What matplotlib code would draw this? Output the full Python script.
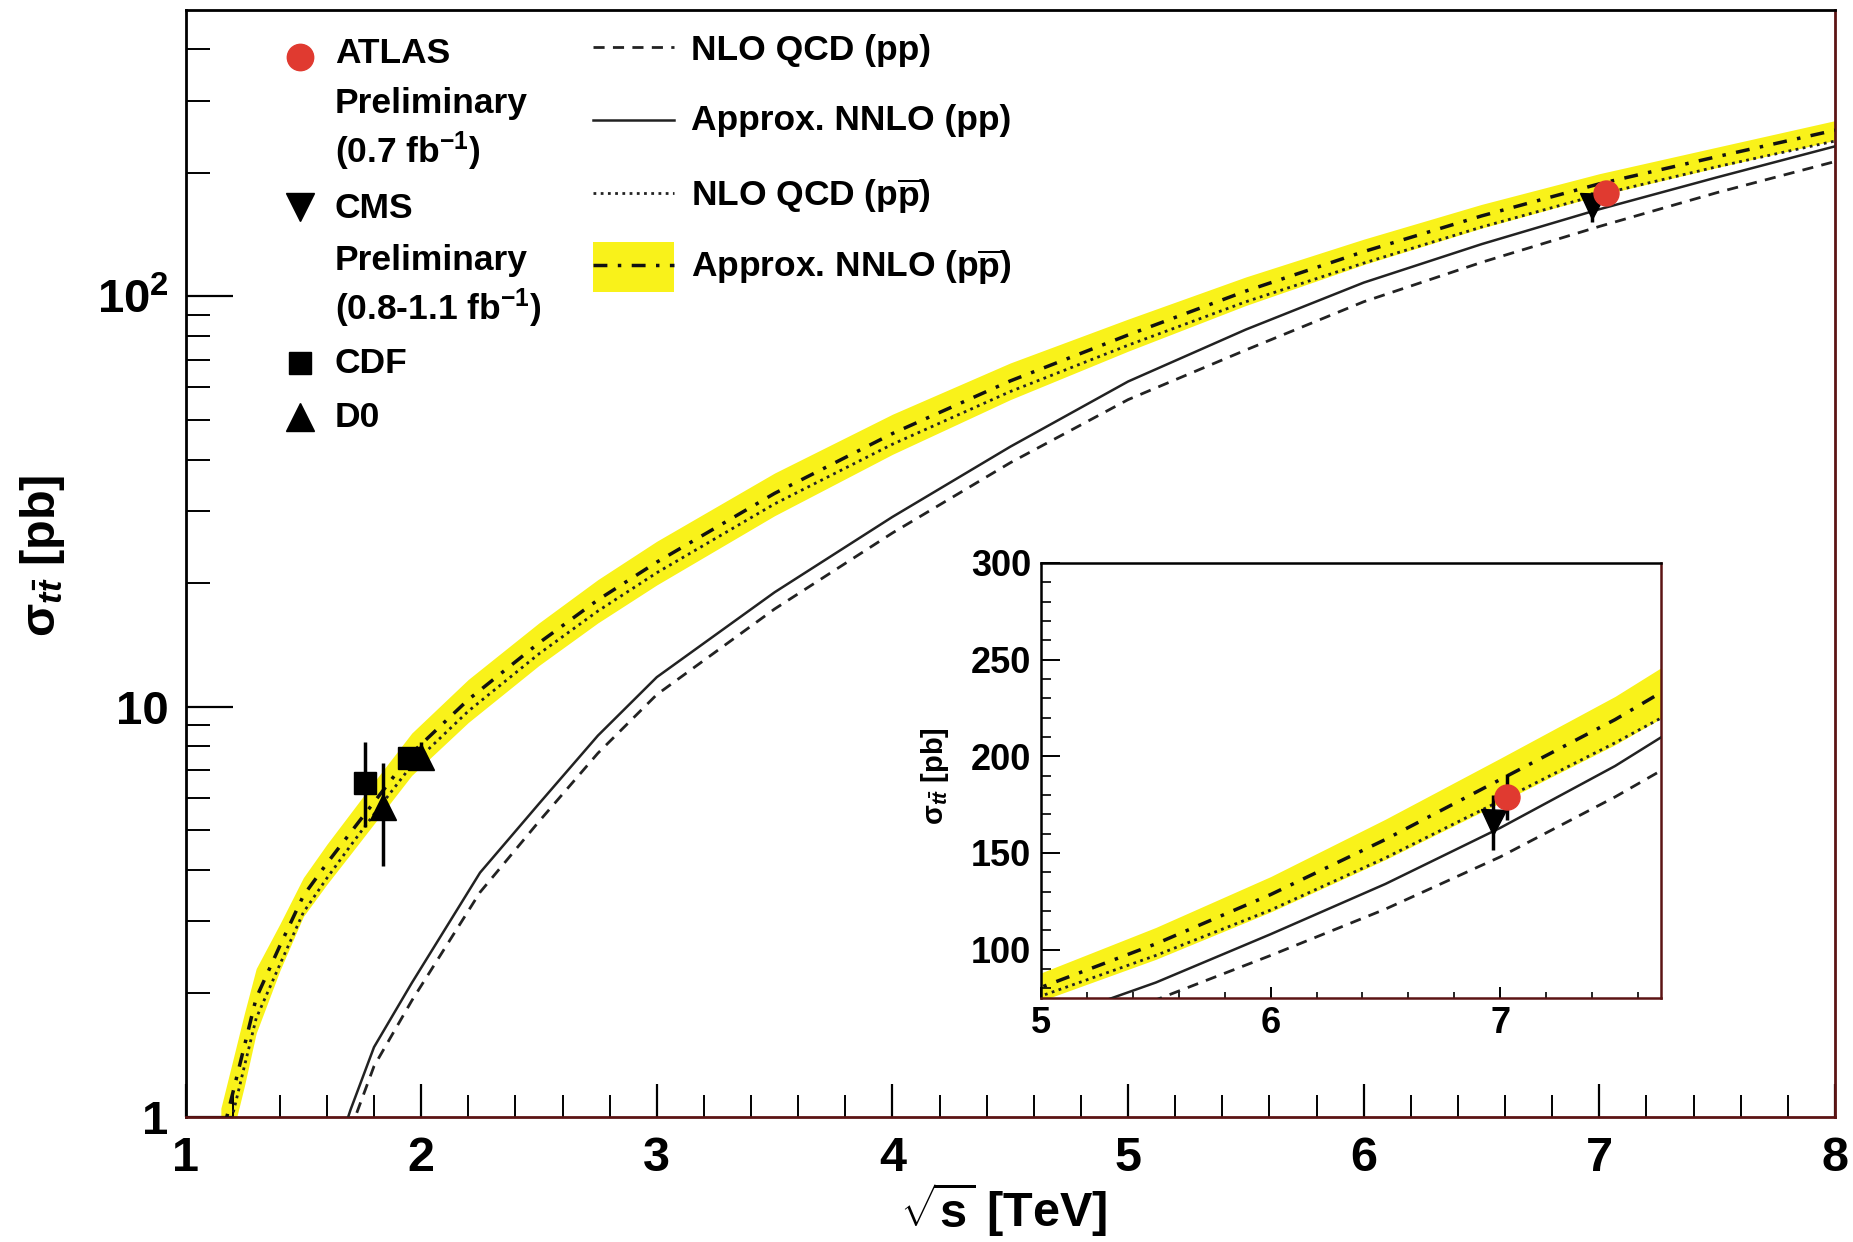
import matplotlib
matplotlib.use("Agg")
import matplotlib.pyplot as plt
from matplotlib.ticker import FixedLocator, FixedFormatter, MultipleLocator, NullFormatter
from matplotlib.patches import Rectangle
from matplotlib.lines import Line2D

# ---------------- data ----------------
# theory curves, p-pbar collisions
PPBAR_SQRTS = [1.15, 1.2, 1.25, 1.3, 1.4, 1.5, 1.6, 1.7, 1.8, 1.96, 2.2, 2.5, 2.75,
               3.0, 3.5, 4.0, 4.5, 5.0, 5.5, 6.0, 6.5, 7.0, 7.5, 8.0]
NNLO_PPBAR = [0.875, 1.14, 1.49, 1.95, 2.61, 3.46, 4.15, 4.93, 5.85, 7.7, 10.4, 14.3, 18.2,
              22.5, 33.1, 46.3, 62.2, 80.5, 103, 128.5, 157, 188, 219, 254]
NNLO_PPBAR_HIGH = [1.05, 1.37, 1.79, 2.30, 2.95, 3.83, 4.62, 5.50, 6.55, 8.62, 11.65, 16.0, 20.4,
                   25.3, 37.1, 51.6, 68.8, 88.0, 111.5, 137.8, 167.5, 199, 231, 268]
NNLO_PPBAR_LOW = [0.70, 0.91, 1.19, 1.60, 2.27, 3.08, 3.69, 4.37, 5.18, 6.80, 9.15, 12.6, 16.0,
                  19.8, 29.2, 41.2, 56.0, 73.5, 95.0, 119.5, 146.6, 176, 206, 240]
NLO_PPBAR = [0.78, 1.01, 1.33, 1.74, 2.35, 3.15, 3.82, 4.58, 5.47, 7.2, 9.75, 13.45, 17.1,
             21.2, 31.2, 43.6, 58.6, 76, 97, 120.5, 147.5, 177, 207, 239]

# theory curves, p-p collisions
PP_SQRTS = [1.65, 1.7, 1.8, 1.96, 2.25, 2.5, 2.75, 3.0, 3.5, 4.0, 4.5, 5.0, 5.5,
            6.0, 6.5, 7.0, 7.5, 8.0]
NNLO_PP = [0.85, 1.04, 1.48, 2.12, 3.94, 5.8, 8.5, 11.8, 19.0, 29.0, 43.0, 62.0, 83.0,
           108, 134, 163, 195, 232]
NLO_PP = [0.75, 0.93, 1.33, 1.92, 3.53, 5.25, 7.7, 10.7, 17.3, 26.5, 39.3, 56.0, 74.0,
          97, 121, 148, 179, 213]

# measurements
CDF_SQRTS = [1.76, 1.95]
CDF_XSEC = [6.5, 7.5]
CDF_ERR_LO = [1.4, 0.48]
CDF_ERR_HI = [1.7, 0.48]

D0_SQRTS = [1.84, 2.0]
D0_XSEC = [5.69, 7.56]
D0_ERR_LO = [1.6, 0.56]
D0_ERR_HI = [1.6, 0.63]

ATLAS_SQRTS = [7.03]
ATLAS_XSEC = [179.0]
ATLAS_ERR = [11.8]

CMS_SQRTS = [6.97]
CMS_XSEC = [165.8]
CMS_ERR = [14.0]

# axis tick labels
MAIN_X_TICKS = [1, 2, 3, 4, 5, 6, 7, 8]
MAIN_Y_TICKS = [1, 10, 100]
MAIN_Y_LABELS = ["1", "10", r"$10^{2}$"]
INSET_X_TICKS = [5, 6, 7]
INSET_Y_TICKS = [100, 150, 200, 250, 300]

# ---------------- style ----------------
YELLOW = "#f9f21a"
RED = "#e03a30"
FRAME_RED = "#5c1414"

plt.rcParams["font.family"] = ["Liberation Sans", "DejaVu Sans"]
plt.rcParams["font.weight"] = "bold"
plt.rcParams["axes.labelweight"] = "bold"
plt.rcParams["mathtext.fontset"] = "custom"
plt.rcParams["mathtext.rm"] = "Liberation Sans:bold"
plt.rcParams["mathtext.it"] = "Liberation Sans:italic:bold"
plt.rcParams["mathtext.bf"] = "Liberation Sans:bold"
plt.rcParams["mathtext.sf"] = "Liberation Sans:bold"

W, H = 1853, 1242
fig = plt.figure(figsize=(W / 100, H / 100), dpi=100)


def frame(a, lw=2.0):
    for side in ("top", "left"):
        a.spines[side].set_color("black")
        a.spines[side].set_linewidth(lw)
    for side in ("bottom", "right"):
        a.spines[side].set_color(FRAME_RED)
        a.spines[side].set_linewidth(lw)


def draw_curves(a, band_z=1):
    a.fill_between(PPBAR_SQRTS, NNLO_PPBAR_LOW, NNLO_PPBAR_HIGH, color=YELLOW, lw=0, zorder=band_z)
    a.plot(PP_SQRTS, NLO_PP, color="#222222", lw=2.0, dashes=(4, 3), zorder=3)
    a.plot(PP_SQRTS, NNLO_PP, color="#222222", lw=1.8, zorder=3)
    a.plot(PPBAR_SQRTS, NLO_PPBAR, color="#222222", lw=2.0, dashes=(1, 1.6), zorder=3)
    a.plot(PPBAR_SQRTS, NNLO_PPBAR, color="#111111", lw=2.5, dashes=(4, 3, 1, 3), zorder=3)


def draw_points(a):
    a.errorbar(CDF_SQRTS, CDF_XSEC, yerr=[CDF_ERR_LO, CDF_ERR_HI], fmt="s", ms=16,
               color="black", elinewidth=2.5, capsize=0, zorder=5)
    a.errorbar(D0_SQRTS, D0_XSEC, yerr=[D0_ERR_LO, D0_ERR_HI], fmt="^", ms=19,
               color="black", elinewidth=2.5, capsize=0, zorder=5)
    a.errorbar(CMS_SQRTS, CMS_XSEC, yerr=[CMS_ERR, CMS_ERR], fmt="v", ms=18,
               color="black", elinewidth=2.5, capsize=0, zorder=5)
    a.errorbar(ATLAS_SQRTS, ATLAS_XSEC, yerr=[ATLAS_ERR, ATLAS_ERR], fmt="o", ms=18,
               color=RED, mec=RED, ecolor="black", elinewidth=2.5, capsize=0, zorder=6)


# ---------------- main panel ----------------
ax = fig.add_axes([185.5 / W, 1 - 1117 / H, 1649.5 / W, 1107.5 / H])
ax.set_yscale("log")
draw_curves(ax)
draw_points(ax)
ax.set_xlim(1, 8)
ax.set_ylim(1, 500)
frame(ax)

ax.xaxis.set_major_locator(FixedLocator(MAIN_X_TICKS))
ax.xaxis.set_minor_locator(MultipleLocator(0.2))
ax.yaxis.set_major_locator(FixedLocator(MAIN_Y_TICKS))
ax.yaxis.set_major_formatter(FixedFormatter(MAIN_Y_LABELS))
ax.yaxis.set_minor_locator(FixedLocator([2, 3, 4, 5, 6, 7, 8, 9,
                                         20, 30, 40, 50, 60, 70, 80, 90,
                                         200, 300, 400]))
ax.yaxis.set_minor_formatter(NullFormatter())
ax.tick_params(axis="x", which="major", direction="in", length=24, width=1.6,
               labelsize=35, pad=14, top=False)
ax.tick_params(axis="x", which="minor", direction="in", length=16, width=1.4, top=False)
ax.tick_params(axis="y", which="major", direction="in", length=34, width=1.6,
               labelsize=34, pad=12, right=False)
ax.tick_params(axis="y", which="minor", direction="in", length=17, width=1.4, right=False)

ax.set_xlabel(r"$\sqrt{\mathrm{s}}$ [TeV]", fontsize=35, fontweight="bold")
ax.xaxis.set_label_coords(0.496, -0.057)
ax.set_ylabel(r"σ$_{t\bar{t}}$ [pb]", fontsize=35, fontweight="bold")
ax.yaxis.set_label_coords(-0.072, 0.507)

# ---------------- legend ----------------
T = ax.transAxes
LEG_FS = 25.5
mx, tx = 0.0697, 0.0906
ax.plot([mx], [0.9571], "o", ms=19, color=RED, transform=T, clip_on=False)
ax.plot([mx], [0.8217], "v", ms=20, color="black", transform=T, clip_on=False)
ax.plot([mx], [0.6808], "s", ms=16, color="black", transform=T, clip_on=False)
ax.plot([mx], [0.6321], "^", ms=20, color="black", transform=T, clip_on=False)
left_entries = [
    ("ATLAS", 0.9517),
    ("Preliminary", 0.9065),
    (r"(0.7 fb$^{\mathbf{-1}}$)", 0.8614),
    ("CMS", 0.8117),
    ("Preliminary", 0.7648),
    (r"(0.8-1.1 fb$^{\mathbf{-1}}$)", 0.7196),
    ("CDF", 0.6718),
    ("D0", 0.6230),
]
for txt, yb in left_entries:
    ax.text(tx, yb, txt, transform=T, fontsize=LEG_FS, fontweight="bold", va="baseline", ha="left")

lx0, lx1, rtx = 0.2470, 0.2961, 0.3065
ax.add_patch(Rectangle((lx0, 0.7452), lx1 - lx0, 0.7903 - 0.7452, transform=T,
                       color=YELLOW, lw=0, clip_on=False))
ax.add_line(Line2D([lx0, lx1], [0.9664, 0.9664], transform=T, color="#222222", lw=2.0, dashes=(4, 3)))
ax.add_line(Line2D([lx0, lx1], [0.9002, 0.9002], transform=T, color="#222222", lw=1.8))
ax.add_line(Line2D([lx0, lx1], [0.8346, 0.8346], transform=T, color="#222222", lw=2.0, dashes=(1, 1.6)))
ax.add_line(Line2D([lx0, lx1], [0.7693, 0.7693], transform=T, color="#111111", lw=2.5,
                   dashes=(4, 3, 1, 3)))
right_entries = [
    ("NLO QCD (pp)", 0.9544),
    ("Approx. NNLO (pp)", 0.8912),
    (r"NLO QCD (p$\overline{\mathrm{p}}$)", 0.8219),
    (r"Approx. NNLO (p$\overline{\mathrm{p}}$)", 0.7576),
]
for txt, yb in right_entries:
    ax.text(rtx, yb, txt, transform=T, fontsize=LEG_FS, fontweight="bold", va="baseline", ha="left")

# ---------------- inset ----------------
ins = fig.add_axes([1041 / W, 1 - 998 / H, 620 / W, 435 / H])
ins.set_facecolor("white")
draw_curves(ins)
draw_points(ins)
ins.set_xlim(5, 7.7)
ins.set_ylim(75, 300)
frame(ins, lw=1.8)
ins.xaxis.set_major_locator(FixedLocator(INSET_X_TICKS))
ins.xaxis.set_minor_locator(MultipleLocator(0.2))
ins.yaxis.set_major_locator(FixedLocator(INSET_Y_TICKS))
ins.yaxis.set_minor_locator(MultipleLocator(10))
ins.tick_params(axis="x", which="major", direction="in", length=8, width=1.4,
                labelsize=26, pad=6, top=False)
ins.tick_params(axis="x", which="minor", direction="in", length=4, width=1.2, top=False)
ins.tick_params(axis="y", which="major", direction="in", length=14, width=1.4,
                labelsize=26, pad=7, right=False)
ins.tick_params(axis="y", which="minor", direction="in", length=7, width=1.2, right=False)
ins.set_ylabel(r"σ$_{t\bar{t}}$ [pb]", fontsize=21, fontweight="bold")
ins.yaxis.set_label_coords(-0.145, 0.51)

fig.savefig("out.png", dpi=100, facecolor="white")
